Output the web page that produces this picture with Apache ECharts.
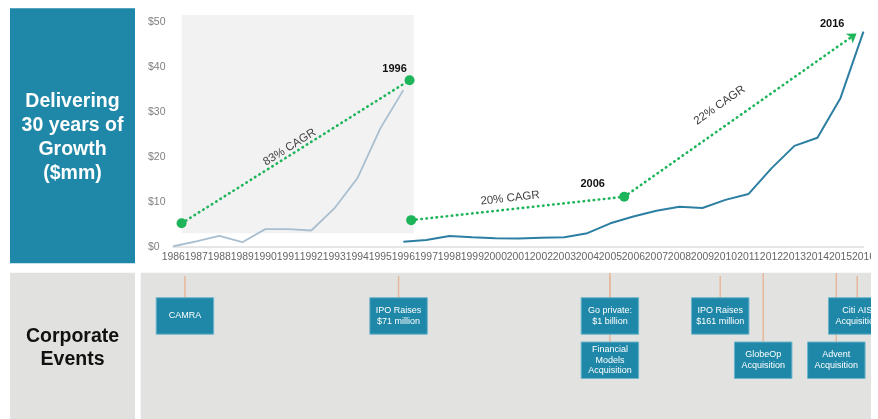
<!DOCTYPE html>
<html><head><meta charset="utf-8">
<script src="https://cdn.jsdelivr.net/npm/echarts@6/dist/echarts.min.js"></script>
<style>html,body{margin:0;padding:0;background:#fff}#c{width:878px;height:419px}</style>
</head><body><div id="c"></div>
<script>
const years = ['1986','1987','1988','1989','1990','1991','1992','1993','1994','1995','1996','1997','1998','1999','2000','2001','2002','2003','2004','2005','2006','2007','2008','2009','2010','2011','2012','2013','2014','2015','2016'];
const yTicks = [0, 10, 20, 30, 40, 50];
const earlyRevenue = [0.1, 1.2, 2.4, 1.0, 3.9, 3.9, 3.6, 8.5, 15.2, 26.3, 34.8];            // 1986-1996
const laterRevenue = [1.1, 1.5, 2.4, 2.1, 1.9, 1.8, 2.0, 2.1, 3.0, 5.2, 6.7, 8.0, 8.9, 8.6, 10.4, 11.7, 17.4, 22.4, 24.2, 33.0, 47.8]; // 1996-2016
const growthStarts = [[1986.36, 5.2], [1996.34, 5.9], [2005.6, 11.1]];
const growthEnds = [[1996.27, 37.0], [2005.6, 11.1], [2015.7, 47.4]];
const cagrLabels = ['83% CAGR', '20% CAGR', '22% CAGR'];
const milestoneYears = ['1996', '2006', '2016'];
const milestoneAnchors = [[1995.62, 39.6], [2004.23, 14.0], [2014.64, 49.5]];
const shadedSpan = [1986.36, 1996.45, 51.5, 3.0];
const eventNames = ['CAMRA', 'IPO Raises\n$71 million', 'Go private:\n$1 billion', 'Financial\nModels\nAcquisition', 'IPO Raises\n$161 million', 'GlobeOp\nAcquisition', 'Citi AIS\nAcquisition', 'Advent\nAcquisition'];
const eventYears = [1986.5, 1995.7, 2004.8, 2004.8, 2009.55, 2011.4, 2015.45, 2014.55];
const eventRows = [0, 0, 0, 1, 0, 1, 0, 1];

const FONT = '"Liberation Sans", Arial, sans-serif';
const TEAL = '#1f87a7';
const GREEN = '#1db45a';
const labelT = [0.49, 0.47, 0.46];
const labelOff = [7, 11, 20];

const earlySeries = years.map((y, i) => i < earlyRevenue.length ? earlyRevenue[i] : null);
const laterStart = years.indexOf('1996');
const laterSeries = years.map((y, i) => i >= laterStart ? laterRevenue[i - laterStart] : null);

const chart = echarts.init(document.getElementById('c'), null, {renderer: 'canvas'});
chart.setOption({
  animation: false,
  backgroundColor: '#ffffff',
  textStyle: {fontFamily: FONT},
  graphic: [
    {type: 'rect', z: -10, shape: {x: 10, y: 8.3, width: 125, height: 255}, style: {fill: TEAL}},
    {type: 'text', z: -9, x: 72.5, y: 137.5, style: {text: 'Delivering\n30 years of\nGrowth\n($mm)', align: 'center', verticalAlign: 'middle', fill: '#ffffff', font: 'bold 19.5px ' + FONT, lineHeight: 24}},
    {type: 'rect', z: -10, shape: {x: 10, y: 272.7, width: 125, height: 147}, style: {fill: '#e1e1e0'}},
    {type: 'text', z: -9, x: 72.5, y: 348, style: {text: 'Corporate\nEvents', align: 'center', verticalAlign: 'middle', fill: '#111111', font: 'bold 19.5px ' + FONT, lineHeight: 22.7}},
    {type: 'rect', z: -10, shape: {x: 140.7, y: 272.7, width: 740, height: 147}, style: {fill: '#e2e2e1'}},
    {type: 'rect', z: 100, shape: {x: 871, y: 0, width: 8, height: 419}, style: {fill: '#ffffff'}}
  ],
  grid: [
    {left: 173.3, right: 8, top: 21.7, bottom: 172.3},
    {left: 173.3, right: 8, top: 272.7, bottom: 0}
  ],
  xAxis: [
    {type: 'category', gridIndex: 0, data: years, boundaryGap: false,
     axisLine: {lineStyle: {color: '#e6e6e6', width: 2}}, axisTick: {show: false},
     axisLabel: {interval: 0, fontSize: 10.4, color: '#666666', margin: 5, fontFamily: FONT, alignMinLabel: 'center', alignMaxLabel: 'center'}},
    {type: 'value', gridIndex: 0, min: 1986, max: 2016, show: false},
    {type: 'value', gridIndex: 1, min: 1986, max: 2016, show: false}
  ],
  yAxis: [
    {type: 'value', gridIndex: 0, min: yTicks[0], max: yTicks[yTicks.length - 1], interval: 10,
     splitLine: {show: false}, axisLine: {show: false}, axisTick: {show: false},
     axisLabel: {formatter: v => '$' + v, align: 'left', margin: 25.3, fontSize: 10.5, color: '#7f7f7f', fontFamily: FONT}},
    {type: 'value', gridIndex: 1, min: 0, max: 1, show: false}
  ],
  series: [
    {type: 'custom', xAxisIndex: 1, yAxisIndex: 0, z: 0, silent: true,
     data: [shadedSpan],
     renderItem: (params, api) => {
       const a = api.coord([api.value(0), api.value(2)]);
       const b = api.coord([api.value(1), api.value(3)]);
       return {type: 'rect', shape: {x: a[0], y: a[1], width: b[0] - a[0], height: b[1] - a[1]}, style: {fill: '#f2f2f2'}};
     }},
    {type: 'line', xAxisIndex: 0, yAxisIndex: 0, data: earlySeries, showSymbol: false, z: 3,
     lineStyle: {color: '#a9bfcf', width: 1.8}, itemStyle: {color: '#a9bfcf'}},
    {type: 'line', xAxisIndex: 0, yAxisIndex: 0, data: laterSeries, showSymbol: false, z: 3,
     lineStyle: {color: '#2c7fa2', width: 2}, itemStyle: {color: '#2c7fa2'}},
    {type: 'lines', coordinateSystem: 'cartesian2d', xAxisIndex: 1, yAxisIndex: 0, z: 4,
     symbol: ['none', 'none'],
     lineStyle: {color: GREEN, width: 2.6, type: [0.5, 4.6], cap: 'round', opacity: 1, curveness: 0},
     data: [0, 1].map(i => ({coords: [growthStarts[i], growthEnds[i]]}))},
    {type: 'lines', coordinateSystem: 'cartesian2d', xAxisIndex: 1, yAxisIndex: 0, z: 4,
     symbol: ['none', 'arrow'], symbolSize: 9,
     lineStyle: {color: GREEN, width: 2.6, type: [0.5, 4.6], cap: 'round', opacity: 1, curveness: 0},
     data: [{coords: [growthStarts[2], growthEnds[2]]}]},
    {type: 'scatter', xAxisIndex: 1, yAxisIndex: 0, z: 5, symbolSize: 10,
     itemStyle: {color: GREEN, opacity: 1},
     data: [growthStarts[0], growthEnds[0], growthStarts[1], growthEnds[1]]},
    {type: 'custom', xAxisIndex: 1, yAxisIndex: 0, z: 6, silent: true,
     data: cagrLabels.map((t, i) => [growthStarts[i][0], growthStarts[i][1], growthEnds[i][0], growthEnds[i][1], i]),
     renderItem: (params, api) => {
       const i = api.value(4);
       const p0 = api.coord([api.value(0), api.value(1)]);
       const p1 = api.coord([api.value(2), api.value(3)]);
       const dx = p1[0] - p0[0], dy = p1[1] - p0[1];
       const len = Math.sqrt(dx * dx + dy * dy);
       const ang = Math.atan2(-dy, dx);
       const tx = dx / len, ty = dy / len;
       const nx = -Math.sin(ang), ny = -Math.cos(ang);
       const x = p0[0] + tx * len * labelT[i] + nx * labelOff[i];
       const y = p0[1] + ty * len * labelT[i] + ny * labelOff[i];
       return {type: 'text', x: x, y: y, rotation: ang,
               style: {text: cagrLabels[i], align: 'center', verticalAlign: 'middle', fill: '#404040', font: '11.5px ' + FONT}};
     }},
    {type: 'custom', xAxisIndex: 1, yAxisIndex: 0, z: 6, silent: true,
     data: milestoneAnchors.map((p, i) => [p[0], p[1], i]),
     renderItem: (params, api) => {
       const p = api.coord([api.value(0), api.value(1)]);
       return {type: 'text', x: p[0], y: p[1],
               style: {text: milestoneYears[api.value(2)], align: 'center', verticalAlign: 'middle', fill: '#111111', font: 'bold 11px ' + FONT}};
     }},
    {type: 'custom', xAxisIndex: 2, yAxisIndex: 1, z: 5, silent: true,
     data: eventNames.map((n, i) => [eventYears[i], eventRows[i], i]),
     renderItem: (params, api) => {
       const cs = params.coordSys;
       const cx = api.coord([api.value(0), 0])[0];
       const row = api.value(1);
       const idx = api.value(2);
       const bw = 57.5, bh = 36.5;
       const top = cs.y + (row === 0 ? 25 : 69.3);
       const lineTop = cs.y + (row === 0 ? 3.3 : 0.3);
       return {type: 'group', children: [
         {type: 'line', z2: 0, shape: {x1: cx, y1: lineTop, x2: cx, y2: top}, style: {stroke: '#e6b89b', lineWidth: 1.5}},
         {type: 'rect', z2: 10, shape: {x: cx - bw / 2, y: top, width: bw, height: bh}, style: {fill: TEAL, stroke: '#6fb5cc', lineWidth: 1}},
         {type: 'text', z2: 11, x: cx, y: top + bh / 2, style: {text: eventNames[idx], align: 'center', verticalAlign: 'middle', fill: '#ffffff', font: '9px ' + FONT, lineHeight: 10.5}}
       ]};
     }}
  ]
});
</script></body></html>
